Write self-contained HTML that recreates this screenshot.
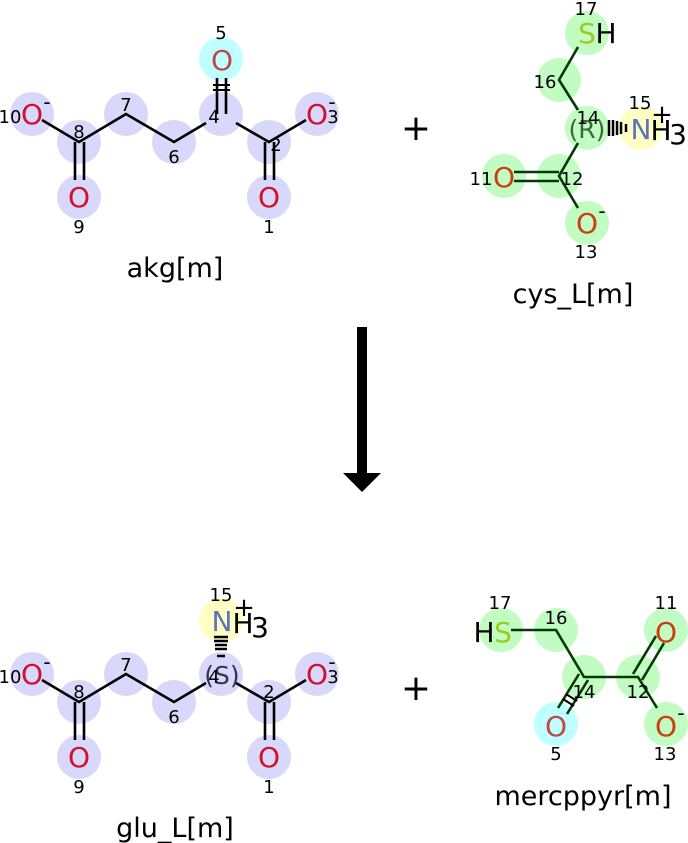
<!DOCTYPE html>
<html><head><style>body{margin:0;background:#fff}svg{display:block}text{font-family:"DejaVu Sans","Liberation Sans",sans-serif}</style></head><body>
<svg width="688" height="843" viewBox="0 0 688 843">
<defs>
<g id="chain">
<g fill="#d8d8fb">
<circle cx="32" cy="114" r="22"/><circle cx="79" cy="142" r="22"/><circle cx="126" cy="114" r="22"/><circle cx="174" cy="142" r="22"/><circle cx="221" cy="114" r="22"/><circle cx="269" cy="142" r="22"/><circle cx="317" cy="114" r="22"/><circle cx="79" cy="197" r="22"/><circle cx="269" cy="197" r="22"/>
</g>
<g stroke="#000" stroke-width="2.6" fill="none">
<polyline points="42,120 79,142 126,114 174,142 206,123"/>
<polyline points="236,123 269,142 306,120"/>
<line x1="75" y1="142" x2="75" y2="180"/><line x1="84" y1="142" x2="84" y2="180"/>
<line x1="265" y1="142" x2="265" y2="180"/><line x1="274" y1="142" x2="274" y2="180"/>
</g>
<g fill="#d4102e" font-size="28" text-anchor="middle">
<text x="32" y="124">O</text><text x="317" y="124">O</text><text x="79" y="207">O</text><text x="269" y="207">O</text>
</g>
<g font-size="18" text-anchor="middle" fill="#000">
<text x="10" y="123">10</text><text x="79" y="138">8</text><text x="126" y="111">7</text><text x="174" y="163">6</text><text x="79" y="233">9</text><text x="269" y="233">1</text>
<text x="333" y="123">3</text><text x="47" y="109" font-size="20">-</text><text x="332" y="109" font-size="20">-</text>
</g>
</g>
</defs>

<use href="#chain"/>
<circle cx="221" cy="59" r="22" fill="#bfffff"/>
<line x1="217" y1="78" x2="217" y2="114" stroke="#000" stroke-width="2.6"/>
<line x1="226" y1="78" x2="226" y2="114" stroke="#000" stroke-width="2.6"/>
<line x1="213" y1="85" x2="230" y2="85" stroke="#000" stroke-width="2"/>
<line x1="213" y1="90" x2="230" y2="90" stroke="#000" stroke-width="2"/>
<text x="222" y="70" font-size="28" fill="#c04848" text-anchor="middle">O</text>
<text x="221" y="39" font-size="18" text-anchor="middle">5</text>
<text x="214" y="123" font-size="18" text-anchor="middle">4</text>
<text x="276" y="151" font-size="18" text-anchor="middle">2</text>
<text x="175" y="277" font-size="27" text-anchor="middle">akg[m]</text>

<g transform="translate(0,560)"><use href="#chain"/></g>
<circle cx="221" cy="620" r="22" fill="#ffffc4"/>
<g stroke="#000" stroke-width="2.5">
<line x1="214" y1="637" x2="228" y2="637"/><line x1="214" y1="641" x2="228" y2="641"/><line x1="215" y1="645" x2="227" y2="645"/><line x1="215" y1="649" x2="227" y2="649"/><line x1="217" y1="656" x2="225" y2="656"/>
</g>
<text x="222" y="631" font-size="28" fill="#5b74b8" text-anchor="middle">N</text>
<text x="243" y="633" font-size="28" text-anchor="middle">H</text>
<text x="260" y="637" font-size="28" text-anchor="middle">3</text>
<text x="244" y="616" font-size="26" text-anchor="middle">+</text>
<text x="221" y="601" font-size="18" text-anchor="middle">15</text>
<text x="222" y="684" font-size="25" fill="#333355" text-anchor="middle">(S)</text>
<text x="214" y="683" font-size="18" text-anchor="middle">4</text>
<text x="269" y="698" font-size="18" text-anchor="middle">2</text>
<text x="175" y="837" font-size="27" text-anchor="middle">glu_L[m]</text>

<text x="416" y="140" font-size="36" text-anchor="middle">+</text>
<text x="416" y="700" font-size="36" text-anchor="middle">+</text>

<rect x="357" y="327" width="10" height="148" fill="#000"/>
<polygon points="343,473 381,473 362,492" fill="#000"/>

<g fill="#c2fcc2">
<circle cx="587" cy="33" r="22"/><circle cx="559" cy="80" r="22"/><circle cx="587" cy="128" r="22"/><circle cx="559" cy="176" r="22"/><circle cx="504" cy="176" r="22"/><circle cx="587" cy="223" r="22"/>
</g>
<circle cx="641" cy="128" r="22" fill="#ffffc4"/>
<g stroke-width="2.6" fill="none" style="stroke:#043a04">
<polyline points="578,47 559,80 578,110"/>
<polyline points="578,143 559,176 578,208"/>
<line x1="514" y1="172" x2="559" y2="172"/><line x1="514" y1="181" x2="559" y2="181"/>
</g>
<g stroke="#000" stroke-width="2.5">
<line x1="609" y1="120" x2="609" y2="136"/><line x1="613" y1="120" x2="613" y2="136"/><line x1="617" y1="121" x2="617" y2="135"/><line x1="621" y1="122" x2="621" y2="134"/><line x1="626" y1="124" x2="626" y2="132"/>
</g>
<text x="587" y="43" font-size="28" fill="#99cc22" text-anchor="middle">S</text>
<text x="606" y="43" font-size="28" text-anchor="middle">H</text>
<text x="586" y="15" font-size="18" text-anchor="middle">17</text>
<text x="545" y="88" font-size="18" text-anchor="middle">16</text>
<text x="587" y="138" font-size="25" fill="#3a6a3a" text-anchor="middle">(R)</text>
<text x="588" y="124" font-size="18" text-anchor="middle">14</text>
<text x="641" y="139" font-size="28" fill="#5b74b8" text-anchor="middle">N</text>
<text x="661" y="140" font-size="28" text-anchor="middle">H</text>
<text x="678" y="144" font-size="28" text-anchor="middle">3</text>
<text x="662" y="123" font-size="26" text-anchor="middle">+</text>
<text x="640" y="109" font-size="18" text-anchor="middle">15</text>
<text x="504" y="187" font-size="28" fill="#c84010" text-anchor="middle">O</text>
<text x="481" y="185" font-size="18" text-anchor="middle">11</text>
<text x="572" y="185" font-size="18" text-anchor="middle">12</text>
<text x="587" y="233" font-size="28" fill="#c84010" text-anchor="middle">O</text>
<text x="602" y="218" font-size="20" text-anchor="middle">-</text>
<text x="586" y="258" font-size="18" text-anchor="middle">13</text>
<text x="573" y="303" font-size="27" text-anchor="middle">cys_L[m]</text>

<g fill="#c2fcc2">
<circle cx="501" cy="630" r="22"/><circle cx="556" cy="630" r="22"/><circle cx="584" cy="677" r="22"/><circle cx="638" cy="677" r="22"/><circle cx="666" cy="630" r="22"/><circle cx="666" cy="724" r="22"/>
</g>
<circle cx="556" cy="724" r="22" fill="#bfffff"/>
<g stroke="#043a04" stroke-width="2.6" fill="none">
<polyline points="511,630 556,630 584,677 638,677 657,708"/>
<line x1="633" y1="674" x2="656" y2="636"/><line x1="642" y1="680" x2="664" y2="643"/>
<line x1="579" y1="674" x2="558" y2="708"/><line x1="588" y1="680" x2="567" y2="714"/>
</g>
<g stroke="#000" stroke-width="2">
<line x1="566" y1="694" x2="577" y2="701"/><line x1="563" y1="699" x2="574" y2="706"/>
</g>
<text x="503" y="642" font-size="28" fill="#99cc22" text-anchor="middle">S</text>
<text x="484" y="642" font-size="28" text-anchor="middle">H</text>
<text x="500" y="609" font-size="18" text-anchor="middle">17</text>
<text x="556" y="624" font-size="18" text-anchor="middle">16</text>
<text x="584" y="698" font-size="18" text-anchor="middle">14</text>
<text x="638" y="698" font-size="18" text-anchor="middle">12</text>
<text x="666" y="642" font-size="28" fill="#c84010" text-anchor="middle">O</text>
<text x="666" y="609" font-size="18" text-anchor="middle">11</text>
<text x="666" y="736" font-size="28" fill="#c84010" text-anchor="middle">O</text>
<text x="681" y="720" font-size="20" text-anchor="middle">-</text>
<text x="665" y="760" font-size="18" text-anchor="middle">13</text>
<text x="556" y="736" font-size="28" fill="#c04848" text-anchor="middle">O</text>
<text x="556" y="760" font-size="18" text-anchor="middle">5</text>
<text x="583" y="805" font-size="27" text-anchor="middle">mercppyr[m]</text>
</svg>
</body></html>
